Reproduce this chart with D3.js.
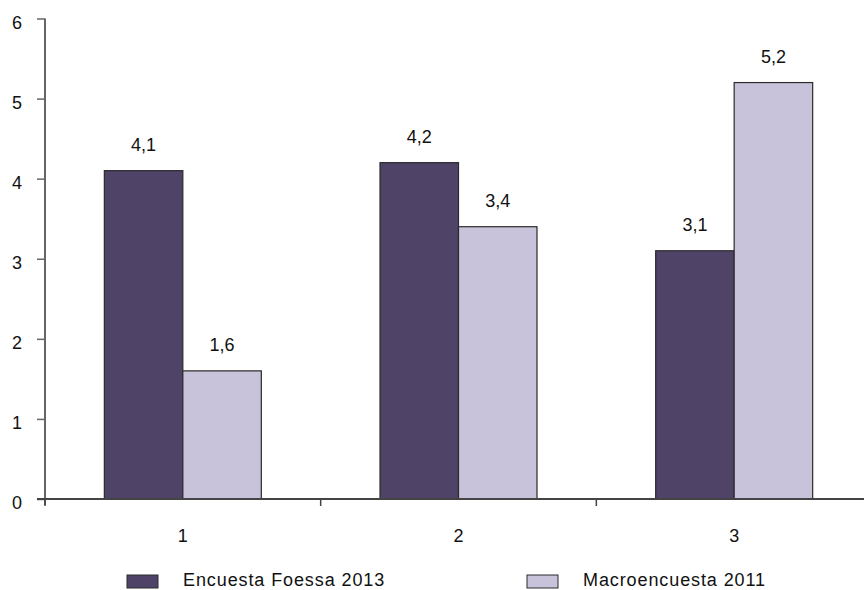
<!DOCTYPE html>
<html>
<head>
<meta charset="utf-8">
<script src="https://cdn.jsdelivr.net/npm/d3@7"></script>
<style>
  html, body { margin: 0; padding: 0; background: #fff; }
  svg { display: block; font-family: "Liberation Sans", Arial, Helvetica, sans-serif; }
</style>
</head>
<body>
<svg id="chart" width="864" height="590"></svg>
<script>
// Categories, series and tick labels
const categories = ["1", "2", "3"];
const seriesNames = ["Encuesta Foessa 2013", "Macroencuesta 2011"];
const foessa2013 = [4.1, 4.2, 3.1];
const macro2011 = [1.6, 3.4, 5.2];
const yTicks = [0, 1, 2, 3, 4, 5, 6];

const colors = ["#4f4468", "#c8c3db"];
const seriesValues = [foessa2013, macro2011];

const svg = d3.select("#chart");
const plotLeft = 45, plotRight = 872, plotTop = 18.5, plotBottom = 499;
const fontFamily = "Liberation Sans, Arial, sans-serif";

const x = d3.scaleBand().domain(categories).range([plotLeft, plotRight]).paddingInner(0).paddingOuter(0);
const xs = d3.scaleBand().domain(d3.range(seriesNames.length)).range([0, x.bandwidth()]).paddingInner(0).paddingOuter(0.756);
const y = d3.scaleLinear().domain([0, 6]).range([plotBottom, plotTop]);

const fmt = v => String(v).replace(".", ",");

// Bars
const groups = svg.append("g").selectAll("g")
  .data(categories)
  .join("g")
  .attr("transform", d => `translate(${x(d)},0)`);

groups.selectAll("rect")
  .data((d, i) => seriesValues.map((s, k) => ({ k, v: s[i] })))
  .join("rect")
  .attr("x", d => xs(d.k))
  .attr("y", d => y(d.v))
  .attr("width", xs.bandwidth())
  .attr("height", d => plotBottom - y(d.v))
  .attr("fill", d => colors[d.k])
  .attr("stroke", "#2a2a2a")
  .attr("stroke-width", 1.2);

// Value labels above each bar
groups.selectAll("text")
  .data((d, i) => seriesValues.map((s, k) => ({ k, v: s[i] })))
  .join("text")
  .attr("x", d => xs(d.k) + xs.bandwidth() / 2)
  .attr("y", d => y(d.v) - 20)
  .attr("text-anchor", "middle")
  .attr("font-size", 18)
  .attr("font-family", fontFamily)
  .attr("fill", "#111")
  .text(d => fmt(d.v));

// Y axis
const yAxis = svg.append("g")
  .attr("transform", `translate(${plotLeft},0)`)
  .call(d3.axisLeft(y).tickValues(yTicks).tickSize(8).tickPadding(15).tickFormat(d => d));
yAxis.select(".domain").attr("stroke", "#666").attr("stroke-width", 2).attr("d", `M0,${plotTop}V${plotBottom + 6}`);
yAxis.selectAll(".tick line").attr("stroke", "#666").attr("stroke-width", 1.5);
yAxis.selectAll(".tick text")
  .attr("font-size", 18).attr("fill", "#111").attr("font-family", fontFamily)
  .attr("dy", "0.55em");

// X axis
const xAxis = svg.append("g")
  .attr("transform", `translate(0,${plotBottom})`)
  .call(d3.axisBottom(x).tickSize(0).tickPadding(28));
xAxis.select(".domain").attr("stroke", "#444").attr("stroke-width", 2).attr("d", `M37,0H864`);
xAxis.selectAll(".tick text")
  .attr("font-size", 18).attr("fill", "#111").attr("font-family", fontFamily)
  .attr("y", 43).attr("dy", 0);
xAxis.selectAll(".sep")
  .data(categories)
  .join("line")
  .attr("class", "sep")
  .attr("x1", d => x(d)).attr("x2", d => x(d))
  .attr("y1", 0).attr("y2", 7)
  .attr("stroke", "#444").attr("stroke-width", 1.5);

// Legend
const legendX = [127, 527];
const legend = svg.append("g").selectAll("g")
  .data(seriesNames)
  .join("g")
  .attr("transform", (d, i) => `translate(${legendX[i]},575)`);
legend.append("rect")
  .attr("width", 31).attr("height", 13)
  .attr("fill", (d, i) => colors[i])
  .attr("stroke", "#2a2a2a").attr("stroke-width", 1);
legend.append("text")
  .attr("x", 56)
  .attr("y", 10.5)
  .attr("font-size", 18)
  .attr("font-family", fontFamily)
  .attr("letter-spacing", 0.9)
  .attr("fill", "#111")
  .text(d => d);
</script>
</body>
</html>
